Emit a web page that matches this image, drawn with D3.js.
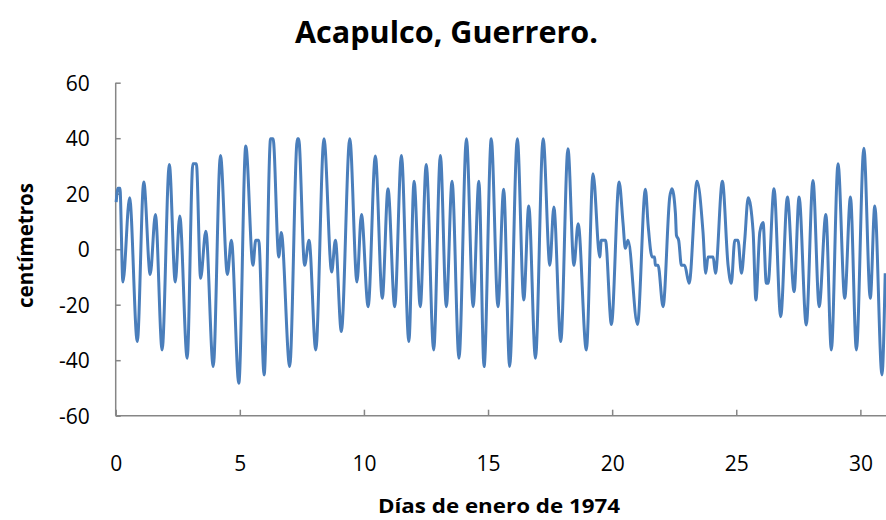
<!DOCTYPE html>
<html>
<head>
<meta charset="utf-8">
<script src="https://cdn.jsdelivr.net/npm/d3@7/dist/d3.min.js"></script>
<style>
  html, body { margin: 0; padding: 0; background: #fff; }
  svg { display: block; }
  text { font-family: "Open Sans", "DejaVu Sans", sans-serif; fill: #000; }
</style>
</head>
<body>
<svg id="chart" width="886" height="520"></svg>
<script>
// Turning points of the tide record (days of January 1974, height in cm)
const days = [
  0.02, 0.09, 0.17, 0.29, 0.56, 0.87, 1.13, 1.39, 1.60, 1.87,
  2.16, 2.40, 2.58, 2.88, 3.11, 3.25, 3.42, 3.63, 3.93, 4.22,
  4.50, 4.66, 4.96, 5.24, 5.53, 5.64, 5.76, 5.98, 6.24, 6.34,
  6.57, 6.67, 7.01, 7.32, 7.37, 7.61, 7.79, 8.06, 8.39, 8.70,
  8.85, 9.09, 9.43, 9.72, 9.90, 10.17, 10.46, 10.74, 10.97, 11.24,
  11.51, 11.81, 12.02, 12.27, 12.51, 12.81, 13.08, 13.32, 13.55, 13.83,
  14.13, 14.40, 14.63, 14.84, 15.13, 15.40, 15.63, 15.87, 16.18, 16.44,
  16.64, 16.91, 17.22, 17.49, 17.65, 17.93, 18.22, 18.46, 18.63, 18.96,
  19.23, 19.50, 19.56, 19.73, 19.97, 20.28, 20.44, 20.53, 20.64, 21.02,
  21.34, 21.45, 21.61, 21.71, 21.74, 21.85, 22.05, 22.32, 22.41, 22.55,
  22.59, 22.68, 22.79, 22.92, 23.10, 23.42, 23.66, 23.77, 23.86, 24.07,
  24.16, 24.44, 24.67, 24.80, 24.94, 25.07, 25.21, 25.34, 25.48, 25.68,
  25.79, 25.95, 26.08, 26.21, 26.28, 26.52, 26.79, 27.06, 27.33, 27.53,
  27.82, 28.09, 28.34, 28.61, 28.83, 29.10, 29.37, 29.60, 29.84, 30.14,
  30.40, 30.58, 30.87, 31.00
];
const heights = [
  17, 22, 22, -11.8, 18.5, -33.3, 24.2, -9.1, 12.5, -36.3,
  30.5, -11.8, 12, -39.3, 30.8, 30.8, -10.5, 6.5, -42.3, 33.8,
  -9.1, 3.2, -48.3, 37.2, -5.8, 3.2, 3.2, -45.3, 39.8, 39.8,
  -2.8, 6, -42.3, 39.8, 39.8, -5.8, 3.2, -36.3, 39.8, -8.2,
  3.2, -29.7, 39.8, -11.8, 12.5, -20.7, 33.6, -17.7, 21.8, -20.7,
  33.8, -33.3, 24.5, -20.7, 30.5, -36.3, 33.8, -20.7, 24.5, -39.3,
  39.8, -20.7, 24.5, -42.3, 39.8, -20.7, 21.6, -42.3, 39.8, -18.3,
  15.6, -39.3, 39.8, -5.8, 15.2, -33.3, 36.2, -5.8, 9.2, -36.3,
  27.2, -2.8, 3.2, 3.2, -27.1, 24.2, 9.2, 0.3, 3.2, -27.1,
  21.6, 8.6, -2.8, -2.8, -5.8, -5.8, -20.7, 18.8, 21.8, 12.8,
  5, 3.2, -5.8, -5.8, -12.3, 24.5, 6.2, -8.7, -2.8, -2.8,
  -8.7, 24.5, -5.8, -12.3, 3.2, 3.2, -8.7, 3.2, 18.5, 6.2,
  -18.3, 6.2, 9.6, -12.3, -12.3, 21.8, -24.3, 18.8, -15.3, 18.8,
  -27.3, 24.8, -20.7, 12.5, -36.3, 30.8, -17.7, 18.8, -36.3, 36.4,
  -17.7, 15.6, -45.3, -8.7
];
const xTicks = [0, 5, 10, 15, 20, 25, 30];
const yTicks = [-60, -40, -20, 0, 20, 40, 60];
const titleText = "Acapulco, Guerrero.";
const xLabel = "Días de enero de 1974";
const yLabel = "centímetros";

const svg = d3.select("#chart");
const x = d3.scaleLinear().domain([0, 31]).range([115.7, 885.2]);
const y = d3.scaleLinear().domain([-60, 60]).range([415.7, 82.7]);
const axisColor = "#868686";
const fmt = d => String(d);

// axes
const gx = svg.append("g").attr("transform", `translate(0,${y(-60)})`)
  .call(d3.axisBottom(x).tickValues(xTicks).tickSize(-6).tickPadding(0).tickFormat(fmt));
gx.select(".domain").attr("d", `M${x(0)},0H886`).attr("stroke", axisColor).attr("stroke-width", 1.5);
gx.selectAll(".tick line").attr("stroke", axisColor).attr("stroke-width", 1.5);
gx.selectAll(".tick text").attr("font-size", 21).attr("dy", 0).attr("y", 55).attr("fill", "#000");

const gy = svg.append("g").attr("transform", `translate(${x(0)},0)`)
  .call(d3.axisLeft(y).tickValues(yTicks).tickSize(-5).tickPadding(0).tickFormat(fmt));
gy.select(".domain").attr("d", `M0,${y(60)}V${y(-60)}`).attr("stroke", axisColor).attr("stroke-width", 1.5);
gy.selectAll(".tick line").attr("stroke", axisColor).attr("stroke-width", 1.5);
gy.selectAll(".tick text").attr("font-size", 21).attr("x", -26).attr("dy", "0.35em").attr("fill", "#000");

// series
const pts = days.map((d, i) => [d, heights[i]]);
svg.append("path")
  .datum(pts)
  .attr("fill", "none")
  .attr("stroke", "#4a7ebb")
  .attr("stroke-width", 3)
  .attr("stroke-linejoin", "round")
  .attr("d", d3.line().curve(d3.curveMonotoneX).x(d => x(d[0])).y(d => y(d[1])));

// titles
svg.append("text").attr("x", 446.5).attr("y", 43).attr("text-anchor", "middle")
  .attr("font-size", 30).attr("font-weight", "bold")
  .attr("textLength", 303).attr("lengthAdjust", "spacingAndGlyphs").text(titleText);
svg.append("text").attr("x", 499).attr("y", 513).attr("text-anchor", "middle")
  .attr("font-size", 20).attr("font-weight", "bold")
  .attr("textLength", 242).attr("lengthAdjust", "spacingAndGlyphs").text(xLabel);
svg.append("text").attr("transform", "translate(33,245.5) rotate(-90)").attr("text-anchor", "middle")
  .attr("font-size", 21).attr("font-weight", "bold")
  .attr("textLength", 125).attr("lengthAdjust", "spacingAndGlyphs").text(yLabel);
</script>
</body>
</html>
